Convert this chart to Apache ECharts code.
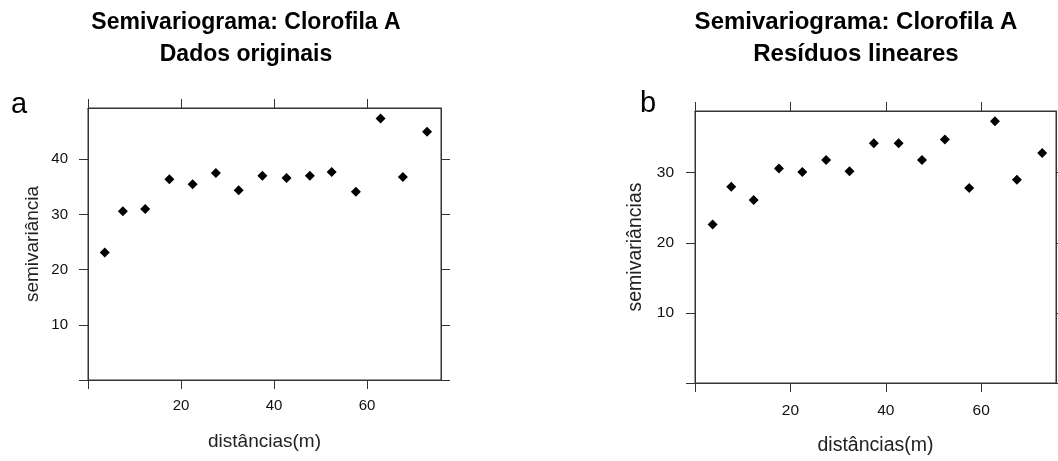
<!DOCTYPE html>
<html>
<head>
<meta charset="utf-8">
<script src="https://cdn.jsdelivr.net/npm/echarts@6/dist/echarts.min.js"></script>
<style>
  html, body { margin: 0; padding: 0; background: #fff; }
  #chart { width: 1058px; height: 461px; }
</style>
</head>
<body>
<div id="chart"></div>
<script>
// painel a: dados originais
const distA = [3.6, 7.5, 12.3, 17.5, 22.5, 27.5, 32.4, 37.5, 42.7, 47.7, 52.4, 57.6, 62.9, 67.7, 72.9];
const semivarA = [23.1, 30.6, 31.0, 36.4, 35.5, 37.5, 34.4, 37.0, 36.6, 37.0, 37.7, 34.1, 47.4, 36.8, 45.0];
// painel b: residuos lineares
const distB = [3.7, 7.6, 12.3, 17.6, 22.5, 27.5, 32.4, 37.5, 42.7, 47.6, 52.4, 57.5, 62.9, 67.5, 72.8];
const semivarB = [22.6, 28.0, 26.1, 30.6, 30.1, 31.8, 30.2, 34.2, 34.2, 31.8, 34.75, 27.8, 37.35, 29.0, 32.8];

const xTicks = [0, 20, 40, 60];
const xLabels = [20, 40, 60];
const yTicksA = [0, 10, 20, 30, 40];
const yLabelsA = [10, 20, 30, 40];
const yTicksB = [0, 10, 20, 30];
const yLabelsB = [10, 20, 30];

const FONT = '"Liberation Sans", Arial, sans-serif';
const LINE = '#333';

const chart = echarts.init(document.getElementById('chart'), null, { renderer: 'canvas' });

// eixo com ticks para fora; labels so no lado principal
function axis(grid, pos, min, max, ticks, labels, fontSize, margin, name, nameSize, nameGap) {
  const ax = {
    type: 'value',
    gridIndex: grid,
    position: pos,
    min: min,
    max: max,
    splitLine: { show: false },
    axisLine: { show: true, onZero: false, lineStyle: { color: LINE, width: 1 } },
    axisTick: { show: true, inside: false, length: 9, customValues: ticks, lineStyle: { color: LINE, width: 1 } },
    axisLabel: labels ? {
      show: true, customValues: labels, margin: margin,
      color: '#111', fontSize: fontSize, fontFamily: FONT
    } : { show: false }
  };
  if (name) {
    ax.name = name;
    ax.nameLocation = 'middle';
    ax.nameGap = nameGap;
    ax.nameTextStyle = { color: '#222', fontSize: nameSize, fontFamily: FONT };
  }
  return ax;
}

const option = {
  backgroundColor: '#fff',
  animation: false,
  grid: [
    { left: 88, top: 108, width: 353, height: 272, show: true, borderColor: LINE, borderWidth: 1 },
    { left: 695, top: 111, width: 361, height: 278, show: true, borderColor: LINE, borderWidth: 1 }
  ],
  xAxis: [
    axis(0, 'bottom', 0, 75.9, xTicks, xLabels, 15, 18, 'distâncias(m)', 19, 52),
    axis(0, 'top', 0, 75.9, xTicks, null),
    axis(1, 'bottom', 0, 75.7, xTicks, xLabels, 15.5, 20, 'distâncias(m)', 19.5, 53),
    axis(1, 'top', 0, 75.7, xTicks, null)
  ],
  yAxis: [
    axis(0, 'left', 0, 49.3, yTicksA, yLabelsA, 15, 20, 'semivariância', 19, 46),
    axis(0, 'right', 0, 49.3, yTicksA, null),
    axis(1, 'left', 0, 38.8, yTicksB, yLabelsB, 15.5, 21, 'semivariâncias', 19.5, 49),
    axis(1, 'right', 0, 38.8, yTicksB, null)
  ],
  series: [
    {
      type: 'scatter', xAxisIndex: 0, yAxisIndex: 0,
      symbol: 'diamond', symbolSize: 10,
      itemStyle: { color: '#000', opacity: 1 },
      data: distA.map((d, i) => [d, semivarA[i]])
    },
    {
      type: 'scatter', xAxisIndex: 2, yAxisIndex: 2,
      symbol: 'diamond', symbolSize: 10,
      itemStyle: { color: '#000', opacity: 1 },
      data: distB.map((d, i) => [d, semivarB[i]])
    }
  ],
  graphic: [
    {
      type: 'text', x: 246, y: 7,
      style: {
        text: 'Semivariograma: Clorofila A\nDados originais',
        font: 'bold 23px ' + FONT, fill: '#000',
        textAlign: 'center', textVerticalAlign: 'top', lineHeight: 32
      }
    },
    {
      type: 'text', x: 856, y: 6,
      style: {
        text: 'Semivariograma: Clorofila A\nResíduos lineares',
        font: 'bold 24px ' + FONT, fill: '#000',
        textAlign: 'center', textVerticalAlign: 'top', lineHeight: 32
      }
    },
    {
      type: 'text', x: 11, y: 90,
      style: { text: 'a', font: '29px ' + FONT, fill: '#000', textVerticalAlign: 'top' }
    },
    {
      type: 'text', x: 640, y: 89,
      style: { text: 'b', font: '29px ' + FONT, fill: '#000', textVerticalAlign: 'top' }
    }
  ]
};

chart.setOption(option);
window.addEventListener('resize', () => chart.resize());
</script>
</body>
</html>
